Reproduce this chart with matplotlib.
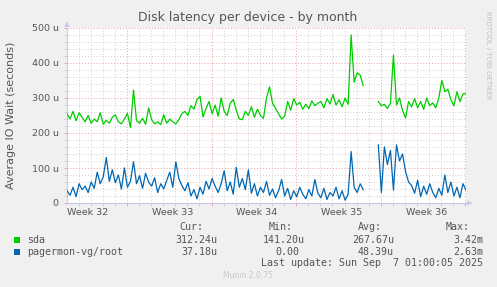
import numpy as np
import matplotlib
matplotlib.use("Agg")
import matplotlib.pyplot as plt
from matplotlib.patches import Rectangle, Polygon

# ---- data (values in microseconds, every 6 hours across 33 days) ----
step_days = 0.25
sda = [255, 240, 262, 235, 258, 245, 232, 250, 228, 240, 232, 258, 225, 236, 228, 245,
       252, 232, 226, 240, 256, 215, 323, 235, 228, 242, 225, 272, 238, 226, 232, 224,
       252, 228, 240, 232, 226, 238, 255, 262, 250, 278, 268, 295, 305, 246, 270, 290,
       255, 280, 248, 300, 262, 250, 285, 296, 265, 240, 238, 262, 250, 275, 245, 268,
       250, 242, 300, 332, 285, 270, 255, 240, 248, 290, 265, 298, 280, 288, 268, 282,
       270, 292, 278, 285, 290, 272, 298, 283, 310, 280, 295, 275, 300, 282, 480, 345,
       372, 365, 335, np.nan, np.nan, np.nan, np.nan, 290, 278, 282, 270, 285, 423, 280,
       300, 265, 243, 290, 275, 298, 272, 290, 268, 300, 278, 286, 272, 300, 350, 318,
       325, 295, 278, 318, 290, 312, 312]
pagermon = [35, 22, 45, 18, 55, 38, 48, 30, 60, 42, 88, 55, 75, 130, 62, 95,
            58, 80, 40, 100, 45, 62, 118, 55, 78, 42, 85, 60, 48, 72, 30, 55,
            40, 65, 88, 45, 118, 70, 50, 35, 58, 20, 38, 12, 45, 25, 62, 40,
            70, 48, 30, 55, 92, 35, 60, 25, 102, 45, 70, 38, 95, 28, 55, 20,
            45, 30, 62, 22, 40, 15, 35, 67, 20, 42, 10, 35, 18, 45, 25, 12,
            38, 20, 67, 28, 15, 42, 10, 30, 20, 45, 12, 35, 8, 25, 147, 45,
            30, 55, 38, np.nan, np.nan, np.nan, np.nan, 166, 30, 160, 110, 150, 37, 166,
            120, 140, 90, 60, 50, 28, 65, 18, 48, 25, 55, 30, 15, 42, 22, 80,
            30, 60, 20, 45, 15, 55, 37]
series_names = ["sda", "pagermon-vg/root"]
week_labels = ["Week 32", "Week 33", "Week 34", "Week 35", "Week 36"]
ytick_values = [0, 100, 200, 300, 400, 500]
ytick_labels = ["0", "100 u", "200 u", "300 u", "400 u", "500 u"]
stat_headers = ["Cur:", "Min:", "Avg:", "Max:"]
sda_stats = ["312.24u", "141.20u", "267.67u", "3.42m"]
pagermon_stats = ["37.18u", "0.00", "48.39u", "2.63m"]
span_days = 33.0
first_midnight = 0.958   # first midnight after graph start (days)
first_sunday = 4.958     # first Sunday 00:00 after graph start (days)
first_label = 1.72

# ---- figure ----
W, H = 497, 287
fig = plt.figure(figsize=(W / 100, H / 100), dpi=100, facecolor="#F0F0F0")
L, R, T, B = 67, 466, 28, 203
ax = fig.add_axes([L / W, 1 - B / H, (R - L) / W, (B - T) / H])
ax.set_facecolor("white")

x = np.arange(len(sda)) * step_days
green = "#00CC00"
blue = "#0066B3"
ax.plot(x, sda, color=green, lw=0.9, zorder=3)
ax.plot(x, np.array(pagermon, dtype=float), color=blue, lw=0.9, zorder=3)

ax.set_xlim(0, span_days)
ax.set_ylim(0, 500)

# grid
minor_x = np.arange(first_midnight, span_days, 1.0)
major_x = np.arange(first_sunday, span_days + 0.01, 7.0)
ax.set_xticks(major_x)
ax.set_xticks(minor_x, minor=True)
ax.set_xticklabels([])
ax.set_yticks(ytick_values)
ax.set_yticklabels(ytick_labels)
ax.set_yticks(np.arange(0, 501, 20), minor=True)

grid_gray = "#cfcfcf"
grid_red = "#e8a0a0"
ax.grid(which="minor", color=grid_gray, linestyle=(0, (1, 2)), lw=0.7, zorder=1)
ax.grid(which="major", color=grid_red, linestyle=(0, (1, 2)), lw=0.7, zorder=1)

ax.tick_params(axis="both", which="major", length=2, width=0.7, color=grid_red,
               labelsize=6.8, labelcolor="#555555", pad=4)
ax.tick_params(axis="both", which="minor", length=2, width=0.7, color=grid_gray)

for s in ["top", "right"]:
    ax.spines[s].set_visible(False)
axis_col = "#c8c8ec"
for s in ["left", "bottom"]:
    ax.spines[s].set_color(axis_col)
    ax.spines[s].set_linewidth(0.8)

# week labels
xt = ax.get_xaxis_transform()
for i, lab in enumerate(week_labels):
    ax.text(first_label + 7 * i, -0.057, lab, transform=xt, ha="center", va="center",
            fontsize=6.8, color="#555555")

# axis arrows (figure pixel coordinates)
def fx(px):
    return px / W

def fy(py):
    return 1 - py / H

fig.add_artist(Polygon([[fx(64.5), fy(27)], [fx(69.5), fy(27)], [fx(67), fy(21)]],
                       closed=True, color=axis_col, lw=0))
fig.add_artist(Polygon([[fx(467), fy(200.5)], [fx(467), fy(205.5)], [fx(473), fy(203)]],
                       closed=True, color=axis_col, lw=0))

# title and labels
fig.text(fx(248), fy(18), "Disk latency per device - by month", ha="center", va="center",
         fontsize=9, color="#555555")
fig.text(fx(11), fy(115), "Average IO Wait (seconds)", ha="center", va="center",
         rotation=90, fontsize=8, color="#555555")
fig.text(fx(488), fy(55), "RRDTOOL / TOBI OETIKER", ha="center", va="center",
         rotation=270, fontsize=5, color="#c0c0c0")

# legend
mono = "DejaVu Sans Mono"
lc = "#555555"
lfs = 7.2
head_x = [203, 293, 382, 470]
val_x = [217, 305, 394, 483]
for h, px in zip(stat_headers, head_x):
    fig.text(fx(px), fy(227.5), h, ha="right", va="center", family=mono, fontsize=lfs, color=lc)

rows = [(series_names[0], sda_stats, green, 240),
        (series_names[1], pagermon_stats, blue, 251.7)]
for name, stats, col, py in rows:
    fig.add_artist(Rectangle((fx(14), fy(py + 3)), 6 / W, 6 / H, color=col, lw=0))
    fig.text(fx(27), fy(py), name, ha="left", va="center", family=mono, fontsize=lfs, color=lc)
    for v, px in zip(stats, val_x):
        if v == "0.00":
            px -= 6
        fig.text(fx(px), fy(py), v, ha="right", va="center", family=mono, fontsize=lfs, color=lc)

fig.text(fx(483), fy(263.3), "Last update: Sun Sep  7 01:00:05 2025", ha="right", va="center",
         family=mono, fontsize=lfs, color=lc)
fig.text(fx(248), fy(276), "Munin 2.0.75", ha="center", va="center", fontsize=5.5,
         color="#c8c8c8")

fig.savefig("out.png", dpi=100, facecolor=fig.get_facecolor())
